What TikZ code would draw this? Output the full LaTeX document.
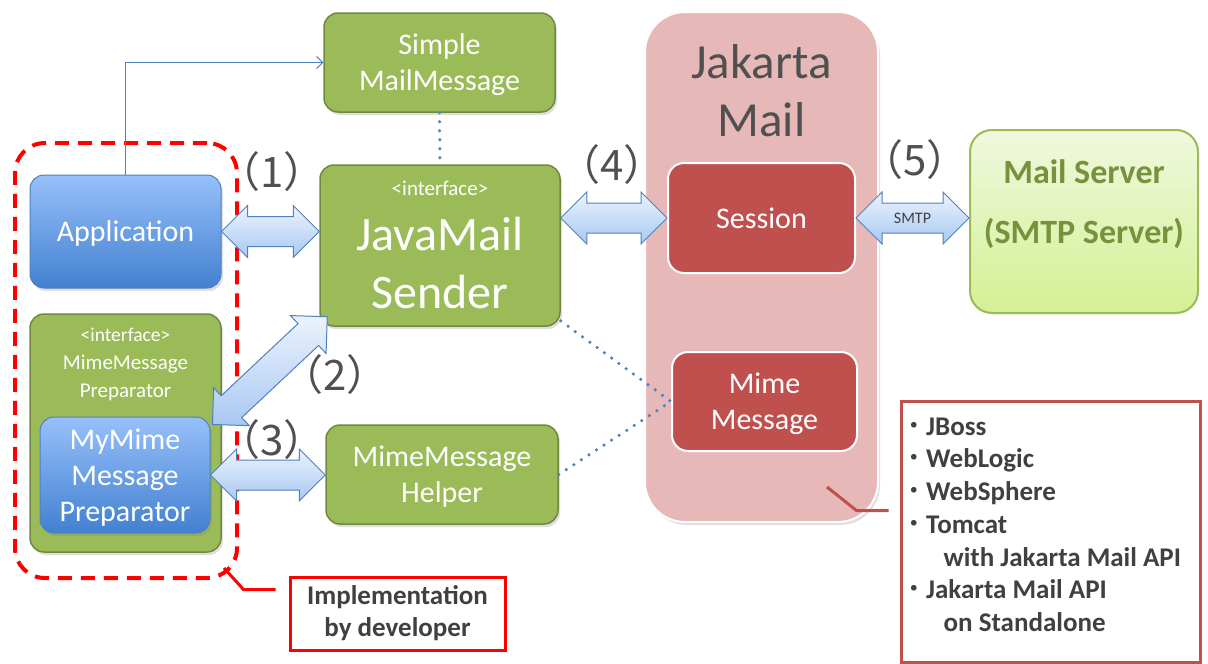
\documentclass[tikz,border=0pt]{standalone}
\usepackage{fontspec}
\setmainfont{Carlito}
\newfontfamily\cjk{Noto Sans CJK JP}
\usetikzlibrary{shapes, arrows.meta, positioning, calc, shadows}

\definecolor{mailgreen}{RGB}{155, 187, 89}
\definecolor{mailgreenedge}{RGB}{113, 137, 63}
\definecolor{apptop}{RGB}{151, 192, 250}
\definecolor{appbot}{RGB}{66, 128, 208}
\definecolor{appedge}{RGB}{79, 129, 189}
\definecolor{jakpink}{RGB}{230, 185, 184}
\definecolor{jakred}{RGB}{192, 80, 77}
\definecolor{srvtop}{RGB}{240, 248, 222}
\definecolor{srvbot}{RGB}{212, 240, 148}
\definecolor{srvtext}{RGB}{118, 146, 60}
\definecolor{arrtop}{RGB}{236, 243, 253}
\definecolor{arrbot}{RGB}{168, 200, 242}
\definecolor{textgray}{RGB}{64, 64, 64}
\definecolor{labelgray}{RGB}{80, 80, 80}

\newcommand{\fs}[2]{\fontsize{#1}{#2}\selectfont}
% fat two-headed arrow from tip #1 to tip #2
\newcommand{\blockarrow}[2]{%
  \draw[fatarrow] (#1) -- ($(#1)!26pt!(#2)!26pt!90:(#2)$) -- ($(#1)!26pt!(#2)!15pt!90:(#2)$)
    -- ($(#2)!26pt!(#1)!15pt!-90:(#1)$) -- ($(#2)!26pt!(#1)!26pt!-90:(#1)$) -- (#2)
    -- ($(#2)!26pt!(#1)!26pt!90:(#1)$) -- ($(#2)!26pt!(#1)!15pt!90:(#1)$)
    -- ($(#1)!26pt!(#2)!15pt!-90:(#2)$) -- ($(#1)!26pt!(#2)!26pt!-90:(#2)$) -- cycle;}

\begin{document}
\begin{tikzpicture}[x=1pt, y=-1pt,
  every node/.style={font=\fs{30}{36}, text=white, align=center},
  greenbox/.style={draw=mailgreenedge, fill=mailgreen, line width=1.5pt, rounded corners=14pt, text depth=0pt,
    drop shadow={shadow xshift=2pt, shadow yshift=-3pt, opacity=0.25}},
  bluebox/.style={draw=appedge, top color=apptop, bottom color=appbot, line width=1pt, rounded corners=14pt,
    text depth=0pt, drop shadow={shadow xshift=2pt, shadow yshift=-3pt, opacity=0.25}},
  redbox/.style={draw=white, fill=jakred, line width=2pt, rounded corners=16pt, text depth=0pt},
  fatarrow/.style={draw=appedge, top color=arrtop, bottom color=arrbot, line width=1pt, line join=miter},
  numlabel/.style={font=\cjk\fs{42}{44}, text=labelgray},
  dotlink/.style={draw=appedge, line width=3.5pt, dash pattern=on 0pt off 9pt, line cap=round},
  ]
  \useasboundingbox (0,0) rectangle (1208,664);

  % developer area
  \node[draw=red, dash pattern=on 14pt off 9pt, line width=4pt, rounded corners=30pt,
    minimum width=222, minimum height=435] (devarea) at (126,360.5) {};

  % left side
  \node[bluebox, minimum width=191, minimum height=113] (app) at (125.5,231.5) {Application};
  \node[greenbox, minimum width=191, minimum height=238] (prep) at (125.5,433) {};
  \node[below=15pt of prep.north, inner sep=0, font=\fs{21}{28}] (preptext)
    {{\fs{19.5}{28}<interface>}\\MimeMessage\\Preparator};
  \node[bluebox, minimum width=170, minimum height=116] (mymime) at (125,475) {MyMime\\Message\\Preparator};

  % spring side
  \node[greenbox, minimum width=231, minimum height=99] (simple) at (439.5,62.5) {Simple\\MailMessage};
  \node[greenbox, minimum width=240, minimum height=161] (sender) at (440,245.5) {};
  \node[below=17pt of sender.north, inner sep=0, font=\fs{21}{24}] (sendertag) {<interface>};
  \node[font=\fs{48}{58}, inner sep=0] (sendername) at ([yshift=-17pt]sender.center) {JavaMail\\Sender};
  \node[greenbox, minimum width=232, minimum height=99] (helper) at (442,474.5) {MimeMessage\\Helper};

  % jakarta mail
  \node[draw=white, fill=jakpink, line width=2pt, rounded corners=40pt, minimum width=233, minimum height=510,
    drop shadow={shadow xshift=2pt, shadow yshift=-3pt, opacity=0.25}] (jakarta) at (761.5,267) {};
  \node[below=33pt of jakarta.north, inner sep=0, font=\fs{49}{58}, text=labelgray] (jaktitle) {Jakarta\\Mail};
  \node[redbox, minimum width=187, minimum height=110] (session) at (761.5,218) {Session};
  \node[redbox, minimum width=185, minimum height=99] (mime) at (764.5,401.5) {Mime\\Message};

  % mail server
  \node[draw=mailgreen, top color=srvtop, bottom color=srvbot, line width=2pt, rounded corners=22pt,
    minimum width=228, minimum height=183] (server) at (1084,221.5) {};
  \node[inner sep=0, text=srvtext, font=\bfseries\fs{34}{60}] (servername) at ([yshift=17pt]server.center)
    {Mail Server\\(SMTP Server)};

  % thin links
  \draw[appedge, line width=1pt, -{Straight Barb[length=6pt, width=12pt]}] (app.north) |- (simple.west);
  \draw[dotlink] (simple.south) -- (sender.north);
  \draw[dotlink] (sender.-32) -- (mime.west);
  \draw[dotlink] (helper.east) -- (mime.west);

  % block arrows
  \coordinate (a1s) at (app.east);
  \coordinate (a1e) at (app.east -| sender.west);
  \coordinate (a2s) at ([xshift=2pt, yshift=-8pt]mymime.north east);
  \coordinate (a2e) at ([xshift=8pt, yshift=10pt]sender.south west);
  \coordinate (a3s) at (mymime.east);
  \coordinate (a3e) at (mymime.east -| helper.west);
  \coordinate (a4s) at (sender.east |- session.west);
  \coordinate (a4e) at (session.west);
  \coordinate (a5s) at (session.east);
  \coordinate (a5e) at (session.east -| server.west);
  \blockarrow{a1s}{a1e}
  \blockarrow{a2s}{a2e}
  \blockarrow{a3s}{a3e}
  \blockarrow{a4s}{a4e}
  \blockarrow{a5s}{a5e}
  \node[font=\fs{16}{18}, text=textgray] (smtp) at ($(a5s)!0.5!(a5e)$) {SMTP};

  \node[numlabel] (lbl1) at (272,172) {（1）};
  \node[numlabel] (lbl2) at (335,375) {（2）};
  \node[numlabel] (lbl3) at (272,440) {（3）};
  \node[numlabel] (lbl4) at (612,165) {（4）};
  \node[numlabel] (lbl5) at (915,160) {（5）};

  % callouts
  \node[draw=jakred, line width=3pt, fill=white, minimum width=299, minimum height=261] (env) at (1050.5,531.5) {};
  \node[anchor=north west, inner sep=0, align=left, text=textgray, font=\bfseries\fs{27}{32.7}] (envlist)
    at ([xshift=8pt, yshift=-18pt]env.north west)
    {{\cjk ･}\hspace{5pt}JBoss\\{\cjk ･}\hspace{5pt}WebLogic\\{\cjk ･}\hspace{5pt}WebSphere\\{\cjk ･}\hspace{5pt}Tomcat\\
     \hspace*{36pt}with Jakarta Mail API\\{\cjk ･}\hspace{5pt}Jakarta Mail API\\\hspace*{36pt}on Standalone};
  \coordinate (jakpin) at ([xshift=-52pt, yshift=36pt]jakarta.south east);
  \coordinate (envpin) at ([xshift=-11pt, yshift=-111pt]env.north west);
  \draw[jakred, line width=3pt] (jakpin) -- ([xshift=-32pt]envpin) -- (envpin);

  \node[draw=red, line width=3pt, fill=white, minimum width=215, minimum height=73, text=textgray,
    font=\bfseries\fs{27}{32}] (impl) at (397.5,613.5) {Implementation\\by developer};
  \coordinate (devpin) at ([xshift=-15pt, yshift=12pt]devarea.south east);
  \coordinate (implpin) at ([xshift=-13pt, yshift=-14pt]impl.north west);
  \draw[red, line width=3pt] (devpin) -- ([xshift=-32pt]implpin) -- (implpin);
\end{tikzpicture}
\end{document}
